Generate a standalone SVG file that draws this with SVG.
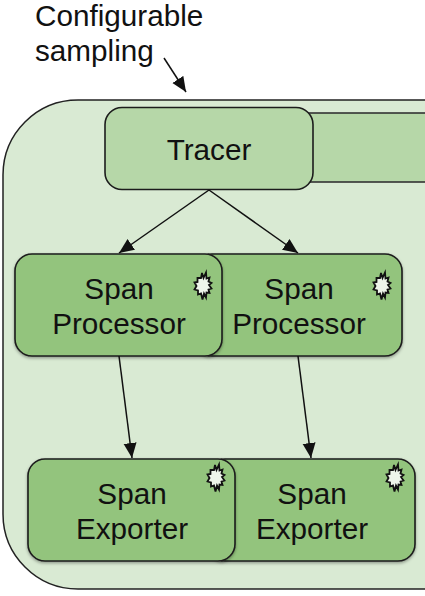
<svg xmlns="http://www.w3.org/2000/svg" width="425" height="596" viewBox="0 0 425 596">
<style>
text{font-family:"Liberation Sans",Arial,sans-serif;font-size:29.700px;fill:#111;text-anchor:middle}
.plain{text-anchor:start}
.box{fill:#93c47d;stroke:#1c1c1c;stroke-width:1.6;filter:url(#sh)}
.edge{stroke:#111;stroke-width:1.5;fill:none;marker-end:url(#arr)}
.burst{fill:#eef5ea;stroke:#111;stroke-width:1.8;stroke-linejoin:miter}
</style>
<defs>
<marker id="arr" markerUnits="userSpaceOnUse" markerWidth="16" markerHeight="14" refX="15" refY="6.500" orient="auto"><path d="M0 0L15 6.500L0 13z" fill="#111"/></marker>
<filter id="sh" x="-10%" y="-10%" width="120%" height="120%"><feDropShadow dx="0" dy="1.500" stdDeviation="1.500" flood-color="#000" flood-opacity=".35"/></filter>
<path id="b" d="M-2-8L-1-13L.5-8L3-13.500L3.500-7.500L6.500-8.500L5.500-4.500L8.500-3L6-1L8.500 2.500L5.500 3.500L6.500 7L3.500 6.500L3 11.500L1 7.500L-.5 13.500L-2 7.500L-5 8.500L-5 4.500L-8.500 3.500L-6.500 0L-8.500-3.500L-5.500-4L-5.500-8z"/>
</defs>
<rect width="425" height="596" fill="#fff"/>
<g id="outer"><rect x="3" y="100" width="560" height="489" rx="75" ry="75" fill="#d9ead3" stroke="#222" stroke-width="1.5"/></g>
<g id="label"><text class="plain" x="35" y="26">Configurable</text><text class="plain" x="35" y="61">sampling</text></g>
<g id="tracer-back"><rect x="240" y="113" width="300" height="69" fill="#b6d7a8" stroke="#333" stroke-width="1.6"/></g>
<g id="tracer"><rect x="105" y="107.500" width="208" height="82" rx="17" fill="#b6d7a8" stroke="#1c1c1c" stroke-width="1.6"/><text x="209" y="160">Tracer</text></g>
<g id="processor-2"><rect class="box" x="195" y="254" width="207" height="102" rx="17"/><text x="299" y="299">Span</text><text x="299" y="334">Processor</text><use href="#b" class="burst" x="382" y="286"/></g>
<g id="processor-1"><rect class="box" x="15" y="254" width="207" height="102" rx="17"/><text x="119" y="299">Span</text><text x="119" y="334">Processor</text><use href="#b" class="burst" x="203" y="286"/></g>
<g id="exporter-2"><rect class="box" x="208" y="459" width="207" height="102" rx="17"/><text x="312" y="504">Span</text><text x="312" y="539">Exporter</text><use href="#b" class="burst" x="395" y="478"/></g>
<g id="exporter-1"><rect class="box" x="28" y="459" width="207" height="102" rx="17"/><text x="132" y="504">Span</text><text x="132" y="539">Exporter</text><use href="#b" class="burst" x="216" y="478"/></g>
<g id="connectors">
<path class="edge" d="M164 58L186 92"/>
<path class="edge" d="M209 190L119 253"/>
<path class="edge" d="M209 190L298 253"/>
<path class="edge" d="M119 356L132 458"/>
<path class="edge" d="M298 356L311 458"/>
</g>
</svg>
